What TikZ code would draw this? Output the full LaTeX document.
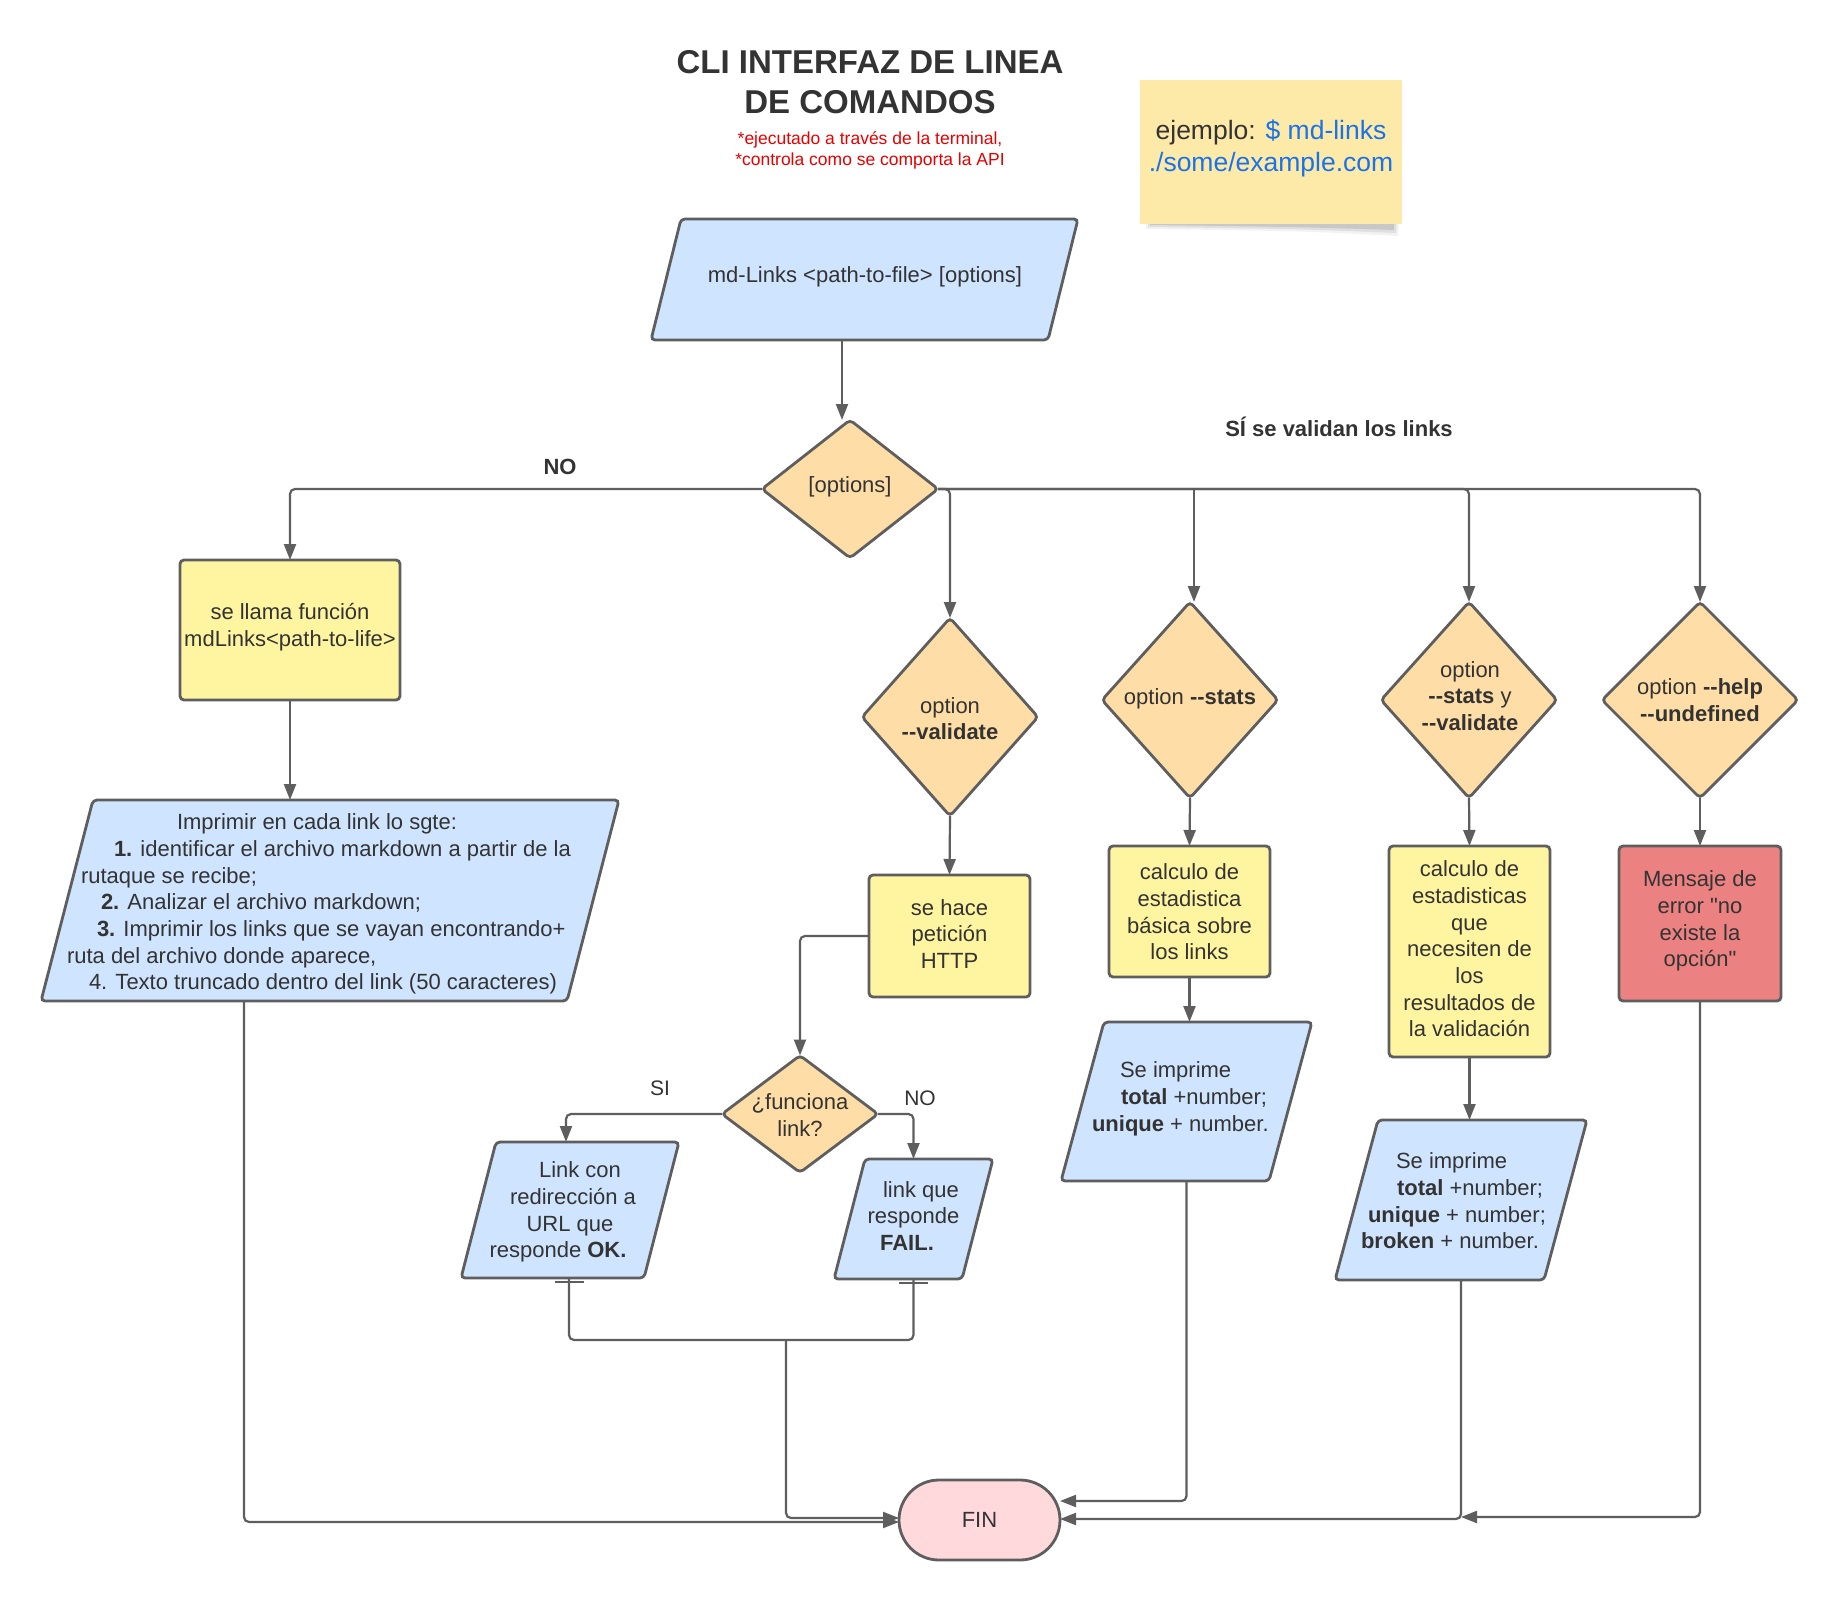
\documentclass[tikz,border=0pt]{standalone}
\usepackage{fontspec}
\setmainfont{Liberation Sans}[Ligatures=TeXOff]
\usetikzlibrary{shapes.geometric,arrows.meta,calc}

\definecolor{ink}{HTML}{333333}
\definecolor{edge}{HTML}{5E5E5E}
\definecolor{ioblue}{HTML}{CFE4FF}
\definecolor{procyel}{HTML}{FFF5A1}
\definecolor{decora}{HTML}{FFDDA6}
\definecolor{errred}{HTML}{EC8181}
\definecolor{endpink}{HTML}{FFD9DB}
\definecolor{notebg}{HTML}{FDE9A8}
\definecolor{alertred}{HTML}{E60000}
\definecolor{cmdblue}{HTML}{1A73E8}

% parallelogram drawn on the frame of a named node
\newcommand\paral[2]{%
  \draw[ioline] (#1.south west) -- ([xshift=#2]#1.north west) -- (#1.north east)
    -- ([xshift=-#2]#1.south east) -- cycle;}

\begin{document}
\begin{tikzpicture}[x=1pt,y=-1pt,
  every node/.style={inner sep=0pt,outer sep=0pt},
  txt/.style={font=\fontsize{22}{26.7}\selectfont,text=ink,align=center},
  frame/.style={rectangle,draw=none},
  ioline/.style={draw=edge,fill=ioblue,line width=2.8pt,rounded corners=4pt},
  procbox/.style={rectangle,draw=edge,fill=procyel,line width=2.8pt,rounded corners=4pt},
  errbox/.style={rectangle,draw=edge,fill=errred,line width=2.8pt,rounded corners=4pt},
  decision/.style={diamond,draw=edge,fill=decora,line width=2.8pt,rounded corners=4pt},
  terminal/.style={rectangle,draw=edge,fill=endpink,line width=2.8pt,rounded corners=40pt},
  conn/.style={draw=edge,line width=2.2pt,rounded corners=5pt,-{Triangle[length=16pt,width=12pt]}},
  link/.style={draw=edge,line width=2.2pt,rounded corners=5pt},
]
\useasboundingbox[fill=white] (0,0) rectangle (1840,1600);

% ---------- heading ----------
\node[font=\fontsize{33}{40}\selectfont\bfseries,text=ink,align=center] (title) at (870,82)
  {CLI INTERFAZ DE LINEA\\DE COMANDOS};
\node[font=\fontsize{17.5}{21}\selectfont,text=alertred,align=center] (sub) at (870,150.5)
  {*ejecutado a través de la terminal,\\*controla como se comporta la API};

% ---------- sticky note ----------
\fill[black,opacity=0.05] (1146,200) -- (1400,200) -- (1398,236) .. controls (1300,231) .. (1146,229) -- cycle;
\fill[black,opacity=0.08] (1148,200) -- (1398,200) -- (1396,233) .. controls (1300,229) .. (1148,227) -- cycle;
\fill[black,opacity=0.10] (1150,200) -- (1396,200) -- (1394,230) .. controls (1300,227) .. (1150,225) -- cycle;
\node[frame,fill=notebg,minimum width=262pt,minimum height=144pt] (note) at (1271,152) {};
\node[font=\fontsize{26.5}{32}\selectfont,text=cmdblue,align=center] (notetext) at (1271,148)
  {\textcolor{ink}{ejemplo:} \$ md-links\\./some/example.com};

% ---------- entry ----------
\node[frame,minimum width=427pt,minimum height=121pt] (pin) at (864.5,279.5) {};
\paral{pin}{30pt}
\node[txt] (pintext) at (865,277) {md-Links <path-to-file> [options]};

\node[decision,minimum width=176pt,minimum height=138pt] (opt) at (850,489) {};
\node[txt] (opttext) at (850,487) {[options]};
\draw[conn] ([xshift=-8pt]opt.north |- pin.south) -- ([xshift=-8pt]opt.north);

\node[txt,font=\fontsize{22}{26.7}\selectfont\bfseries] (lblno) at (560,467) {NO};
\node[txt,font=\fontsize{22}{26.7}\selectfont\bfseries] (lblsi) at (1339,427) {SÍ se validan los links};

% ---------- no options ----------
\node[procbox,minimum width=220pt,minimum height=140pt] (call) at (290,630) {};
\node[txt] (calltext) at (290,627) {se llama función\\mdLinks<path-to-life>};
\draw[conn] (opt.west) -| (call.north);

\node[frame,minimum width=578pt,minimum height=201pt] (print) at (330,900.5) {};
\paral{print}{52pt}
\node[txt,align=left,anchor=west] (printtext) at (67,904)
  {\hspace*{110pt}Imprimir en cada link lo sgte:\\
   \hspace*{47pt}\textbf{1.} identificar el archivo markdown a partir de la\\
   \hspace*{14pt}rutaque se recibe;\\
   \hspace*{34pt}\textbf{2.} Analizar el archivo markdown;\\
   \hspace*{30pt}\textbf{3.} Imprimir los links que se vayan encontrando+\\
   ruta del archivo donde aparece,\\
   \hspace*{22pt}4. Texto truncado dentro del link (50 caracteres)};
\draw[conn] (call.south) -- (call.south |- print.north);

% ---------- end ----------
\node[terminal,minimum width=161pt,minimum height=80pt] (fin) at (979.5,1520) {};
\node[txt] (fintext) at (979.5,1520) {FIN};
\draw[conn] ([xshift=203pt]print.south west) |- ([yshift=-2pt]fin.west);

% ---------- --validate ----------
\node[decision,minimum width=176pt,minimum height=198pt] (val) at (950,717) {};
\node[txt] (valtext) at (950,718.5) {option\\\textbf{-{}-validate}};
\draw[conn] (opt.east) -| (val.north);

\node[procbox,minimum width=161pt,minimum height=122pt] (http) at (949.5,936) {};
\node[txt] (httptext) at (949.5,934) {se hace\\petición\\HTTP};
\draw[conn] (val.south) -- (http.north);

\node[decision,minimum width=156pt,minimum height=117pt] (works) at (800,1114) {};
\node[txt] (workstext) at (800,1115) {¿funciona\\link?};
\draw[conn] (http.west) -| (works.north);

\node[frame,minimum width=218pt,minimum height=136pt] (ok) at (570,1210) {};
\paral{ok}{35pt}
\node[txt] (oktext) at (570,1212)
  {\hspace*{20pt}Link con\\\hspace*{6pt}redirección a\\URL que\hspace*{8pt}\\responde \textbf{OK.}\hspace*{24pt}};
\draw[conn] (works.west) -| ([xshift=-4pt]ok.north);
\node[txt,font=\fontsize{21}{26}\selectfont] (lblyes) at (660,1088) {SI};

\node[frame,minimum width=159pt,minimum height=120pt] (fail) at (913.5,1219) {};
\paral{fail}{31pt}
\node[txt] (failtext) at (913.5,1216)
  {\hspace*{15pt}link que\\responde\\\textbf{FAIL.}\hspace*{13pt}};
\draw[conn] (works.east) -| (fail.north);
\node[txt,font=\fontsize{21}{26}\selectfont] (lblfail) at (920,1098) {NO};

% short stubs under the two results
\draw[edge,line width=2.4pt] ([xshift=-15pt,yshift=-4pt]ok.south) -- ++(29,0);
\draw[edge,line width=2.4pt] ([xshift=-15pt,yshift=-4pt]fail.south) -- ++(29,0);

\coordinate (join) at (786,1340);
\draw[link] ([xshift=-1pt]ok.south) |- (join) -| (fail.south);
\draw[conn] (join) |- ([yshift=2pt]fin.west);

% ---------- --stats ----------
\node[decision,minimum width=176pt,minimum height=196pt] (st) at (1190,700) {};
\node[txt] (sttext) at (1190,699) {option \textbf{-{}-stats}};
\draw[conn] ([xshift=4pt]st.north |- opt.east) -- ([xshift=4pt]st.north);

\node[procbox,minimum width=161pt,minimum height=131pt] (calc) at (1189.5,911.5) {};
\node[txt] (calctext) at (1189.5,912) {calculo de\\estadistica\\básica sobre\\los links};
\draw[conn] (st.south) -- (calc.north);

\node[frame,minimum width=251pt,minimum height=159pt] (stout) at (1186.5,1101.5) {};
\paral{stout}{43pt}
\node[txt,align=left,anchor=west] (stouttext) at (1092,1099)
  {\hspace*{28pt}Se imprime\\\hspace*{29pt}\textbf{total} +number;\\\textbf{unique} + number.};
\draw[conn] (calc.south) -- (calc.south |- stout.north);
\draw[conn] (stout.south) |- ([yshift=19pt]fin.east);

% ---------- --stats y --validate ----------
\node[decision,minimum width=176pt,minimum height=196pt] (sv) at (1469,700) {};
\node[txt] (svtext) at (1470,696) {option\\\textbf{-{}-stats} y\\\textbf{-{}-validate}};
\draw[conn] (opt.east) -| (sv.north);

\node[procbox,minimum width=161pt,minimum height=211pt] (svcalc) at (1469.5,951.5) {};
\node[txt] (svcalctext) at (1469.5,949)
  {calculo de\\estadisticas\\que\\necesiten de\\los\\resultados de\\la validación};
\draw[conn] (sv.south) -- (svcalc.north);

\node[frame,minimum width=252pt,minimum height=160pt] (svout) at (1461,1200) {};
\paral{svout}{43pt}
\node[txt,align=left,anchor=west] (svouttext) at (1361,1201)
  {\hspace*{35pt}Se imprime\\\hspace*{36pt}\textbf{total} +number;\\
   \hspace*{7pt}\textbf{unique} + number;\\\textbf{broken} + number.};
\draw[conn] (svcalc.south) -- (svcalc.south |- svout.north);
\draw[conn] (svout.south) |- ([yshift=1pt]fin.east);

% ---------- --help / --undefined ----------
\node[decision,minimum width=196pt,minimum height=196pt] (help) at (1700,700) {};
\node[txt] (helptext) at (1700,700) {option \textbf{-{}-help}\\\textbf{-{}-undefined}};
\draw[conn] (opt.east) -| (help.north);

\node[errbox,minimum width=162pt,minimum height=155pt] (err) at (1700,923.5) {};
\node[txt] (errtext) at (1700,921) {Mensaje de\\error "no\\existe la\\opción"};
\draw[conn] (help.south) -- (err.north);
\draw[conn] (err.south) |- ($(svout.south |- fin.east)+(0,-3)$);

\end{tikzpicture}
\end{document}
